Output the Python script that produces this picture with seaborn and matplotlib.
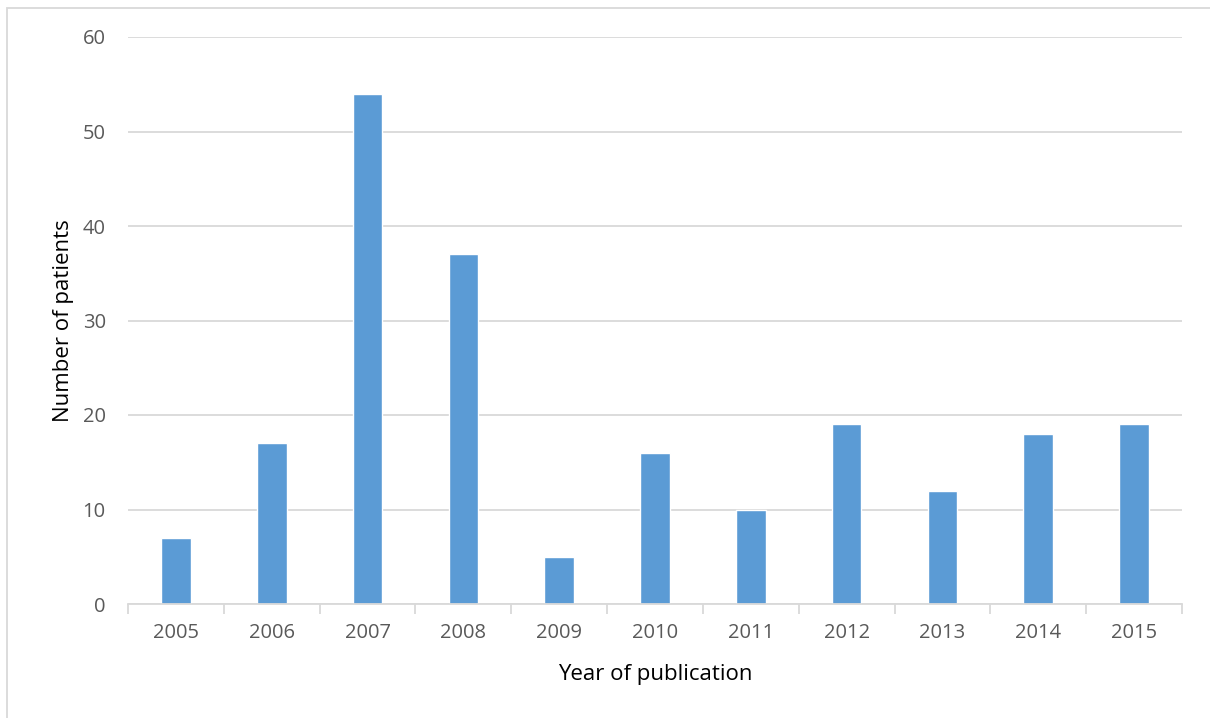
import matplotlib
matplotlib.use("Agg")
import matplotlib.pyplot as plt
import seaborn as sns
import pandas as pd
from matplotlib.patches import Rectangle

years = ["2005", "2006", "2007", "2008", "2009", "2010", "2011", "2012", "2013", "2014", "2015"]
patients = [7, 17, 54, 37, 5, 16, 10, 19, 12, 18, 19]
y_ticks = [0, 10, 20, 30, 40, 50, 60]

sns.set_theme(style="white")
plt.rcParams['font.family'] = ['Open Sans', 'DejaVu Sans']

df = pd.DataFrame({"Year": years, "Patients": patients})

fig = plt.figure(figsize=(12.1, 7.18), dpi=100)
ax = fig.add_axes([128/1210, 1-604/718, (1182-128)/1210, (604-37)/718])

sns.barplot(data=df, x="Year", y="Patients", color="#5B9BD5", width=0.31,
            saturation=1, ax=ax, zorder=3)

ax.set_ylim(0, 60)
ax.set_xlim(-0.5, len(years)-0.5)
ax.set_yticks(y_ticks)
ax.set_yticklabels([str(t) for t in y_ticks])
ax.yaxis.grid(True, color="#D9D9D9", linewidth=1.3, zorder=0)
ax.xaxis.grid(False)
for s in ["top", "right", "left"]:
    ax.spines[s].set_visible(False)
ax.spines["bottom"].set_color("#D9D9D9")
ax.spines["bottom"].set_linewidth(1.3)
ax.spines["bottom"].set_zorder(4)

# x ticks at category boundaries
ax.set_xticks([i - 0.5 for i in range(len(years)+1)], minor=True)
ax.tick_params(axis="x", which="minor", length=7, width=1.3, color="#D9D9D9", bottom=True)
ax.tick_params(axis="x", which="major", length=0, pad=14, labelsize=14.5, labelcolor="#595959")
ax.tick_params(axis="y", length=0, pad=16, labelsize=14.5, labelcolor="#595959")

ax.set_xlabel("Year of publication", fontsize=16, color="#000000", labelpad=15)
ax.set_ylabel("Number of patients", fontsize=16, color="#000000", labelpad=6)

fig.patches.append(Rectangle((7/1210, -0.01), 1.2, 1-8/718 + 0.01, transform=fig.transFigure,
                             fill=False, edgecolor="#D9D9D9", linewidth=1.3))

fig.savefig("out.png", dpi=100, facecolor="white")
